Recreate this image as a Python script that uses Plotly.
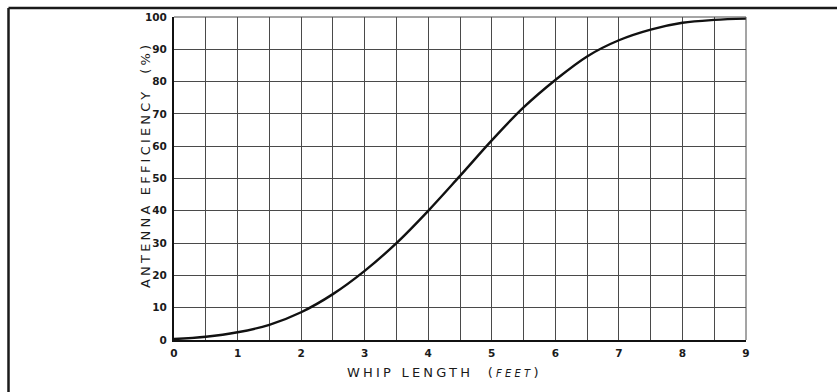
import plotly.graph_objects as go

# Whip antenna efficiency versus whip length
whip_length_ft = [0, 0.5, 1, 1.5, 2, 2.5, 3, 3.5, 4, 4.5, 5, 5.5, 6, 6.5, 7, 7.5, 8, 8.5, 9]
efficiency_pct = [0.3, 1.0, 2.4, 4.7, 8.6, 14.2, 21.4, 30.0, 40.0, 50.8, 61.8, 72.0, 80.5, 87.8, 92.8, 96.1, 98.2, 99.1, 99.5]

x_ticks = [0, 1, 2, 3, 4, 5, 6, 7, 8, 9]
y_ticks = [0, 10, 20, 30, 40, 50, 60, 70, 80, 90, 100]

W, H = 837, 392
L, R, T, B = 174, 91, 17, 52
pw, ph = W - L - R, H - T - B

def px_x(px):
    return (px - L) / pw

def px_y(py):
    return (H - B - py) / ph

fig = go.Figure()
fig.add_trace(go.Scatter(
    x=whip_length_ft, y=efficiency_pct, mode="lines",
    line=dict(color="#111111", width=2.4, shape="spline", smoothing=1.0),
    hoverinfo="skip", showlegend=False,
))

tick_font = dict(family="DejaVu Sans", size=10.5, color="#1a1a1a", weight=600)
grid_col = "#4a4a4a"

fig.update_xaxes(
    range=[0, 9], tickvals=x_ticks, ticktext=[str(v) for v in x_ticks],
    showgrid=True, gridcolor=grid_col, gridwidth=1,
    minor=dict(dtick=0.5, tick0=0, showgrid=True, gridcolor=grid_col, gridwidth=1),
    zeroline=False, showline=True, linecolor="#111111", linewidth=2, mirror=False,
    ticks="", ticklabelstandoff=2, tickfont=tick_font, fixedrange=True,
)
fig.update_yaxes(
    range=[0, 100], tickvals=y_ticks, ticktext=[str(v) for v in y_ticks],
    showgrid=True, gridcolor=grid_col, gridwidth=1,
    zeroline=False, showline=True, linecolor="#111111", linewidth=2, mirror=False,
    ticks="", ticklabelstandoff=3, tickfont=tick_font, fixedrange=True,
)

shapes = [
    # thin frame on top and right of the grid
    dict(type="line", xref="paper", yref="paper", x0=0, x1=1, y0=1, y1=1,
         line=dict(color=grid_col, width=1)),
    dict(type="line", xref="paper", yref="paper", x0=1, x1=1, y0=0, y1=1,
         line=dict(color=grid_col, width=1)),
    # outer border of the figure panel
    dict(type="line", xref="paper", yref="paper",
         x0=px_x(8.5), x1=px_x(W + 2), y0=px_y(8), y1=px_y(8),
         line=dict(color="#1a1a1a", width=2.5)),
    dict(type="line", xref="paper", yref="paper",
         x0=px_x(8.5), x1=px_x(8.5), y0=px_y(8), y1=px_y(H + 2),
         line=dict(color="#1a1a1a", width=2.5)),
]

title_font = dict(family="DejaVu Sans", size=13, color="#1a1a1a")
annotations = [
    dict(text='<span style="letter-spacing:3.2px">WHIP LENGTH  (<i><span style="font-size:10px">FEET</span></i>)</span>',
         xref="paper", yref="paper", x=px_x(444), y=px_y(372),
         xanchor="center", yanchor="middle", showarrow=False, font=title_font),
    dict(text='<span style="letter-spacing:3.2px">ANTENNA EFFICIENCY  (%)</span>',
         xref="paper", yref="paper", x=px_x(145), y=px_y(165), textangle=-90,
         xanchor="center", yanchor="middle", showarrow=False, font=title_font),
]

fig.update_layout(
    width=W, height=H, margin=dict(l=L, r=R, t=T, b=B),
    paper_bgcolor="white", plot_bgcolor="white",
    shapes=shapes, annotations=annotations, showlegend=False,
)

fig.write_html("out.html", config=dict(displayModeBar=False))
